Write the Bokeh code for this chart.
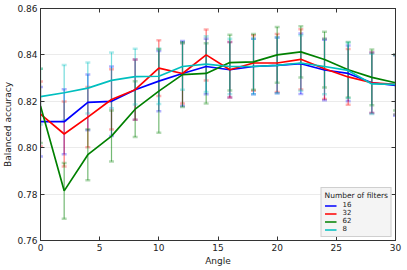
from bokeh.plotting import figure
from bokeh.models import (ColumnDataSource, Whisker, TeeHead, Legend, LegendItem, LinearAxis,
                          FixedTicker, Range1d, CustomJSTickFormatter)
from bokeh.embed import file_html
from bokeh.resources import INLINE

angles = [0, 2, 4, 6, 8, 10, 12, 14, 16, 18, 20, 22, 24, 26, 28, 30]
acc16 = [0.8112, 0.8112, 0.8195, 0.8200, 0.8250, 0.8287, 0.8320, 0.8350, 0.8336, 0.8350, 0.8355, 0.8362, 0.8335, 0.8320, 0.8280, 0.8268]
acc32 = [0.8145, 0.8059, 0.8132, 0.8208, 0.8250, 0.8343, 0.8320, 0.8400, 0.8336, 0.8365, 0.8365, 0.8381, 0.8340, 0.8305, 0.8280, 0.8273]
acc62 = [0.8180, 0.7814, 0.7970, 0.8050, 0.8166, 0.8244, 0.8315, 0.8320, 0.8367, 0.8370, 0.8400, 0.8413, 0.8380, 0.8336, 0.8303, 0.8280]
acc8 = [0.8220, 0.8237, 0.8257, 0.8290, 0.8306, 0.8308, 0.8350, 0.8360, 0.8350, 0.8350, 0.8355, 0.8365, 0.8350, 0.8333, 0.8275, 0.8273]
err16 = [0.015, 0.014, 0.012, 0.015, 0.013, 0.013, 0.014, 0.012, 0.012, 0.012, 0.012, 0.013, 0.013, 0.012, 0.013, 0.013]
err32 = [0.014, 0.014, 0.013, 0.013, 0.013, 0.012, 0.013, 0.011, 0.012, 0.012, 0.0125, 0.013, 0.013, 0.012, 0.013, 0.013]
err62 = [0.016, 0.012, 0.011, 0.011, 0.012, 0.018, 0.014, 0.013, 0.012, 0.012, 0.012, 0.011, 0.012, 0.012, 0.012, 0.012]
err8 = [0.012, 0.012, 0.011, 0.012, 0.012, 0.012, 0.010, 0.012, 0.012, 0.012, 0.012, 0.012, 0.012, 0.012, 0.013, 0.013]
series_names = ["16", "32", "62", "8"]
colors = ["#0000ff", "#ff0000", "#008000", "#00bfbf"]
x_ticks = [0, 5, 10, 15, 20, 25, 30]
y_ticks = [0.76, 0.78, 0.80, 0.82, 0.84, 0.86]

FONT = "DejaVu Sans"
AX = "#333333"

p = figure(width=405, height=268, output_backend="svg", toolbar_location=None,
           x_range=Range1d(0, 30), y_range=Range1d(0.76, 0.86),
           min_border_left=4, min_border_right=10, min_border_top=8, min_border_bottom=26,
           x_axis_label="Angle", y_axis_label="Balanced accuracy")
p.background_fill_color = "white"
p.outline_line_color = AX
p.outline_line_width = 1

for ax, ticks in ((p.xaxis[0], x_ticks), (p.yaxis[0], y_ticks)):
    ax.ticker = FixedTicker(ticks=ticks)
    ax.major_tick_in = 4
    ax.major_tick_out = 0
    ax.minor_tick_line_color = None
    ax.axis_line_color = AX
    ax.major_tick_line_color = AX
    ax.major_label_text_font = FONT
    ax.major_label_text_font_size = "9px"
    ax.major_label_text_color = "#222222"
    ax.axis_label_text_font = FONT
    ax.axis_label_text_font_size = "9px"
    ax.axis_label_text_font_style = "normal"
    ax.axis_label_text_color = "#222222"
p.xaxis[0].major_label_standoff = 3
p.xaxis[0].axis_label_standoff = 2
p.yaxis[0].major_label_standoff = 3
p.yaxis[0].axis_label_standoff = 1
p.yaxis[0].formatter = CustomJSTickFormatter(code="return tick.toFixed(2);")

blank = "return '';"
top = LinearAxis(ticker=FixedTicker(ticks=x_ticks), formatter=CustomJSTickFormatter(code=blank),
                 major_tick_in=4, major_tick_out=0, minor_tick_line_color=None,
                 axis_line_color=AX, major_tick_line_color=AX, major_label_standoff=0)
right = LinearAxis(ticker=FixedTicker(ticks=y_ticks), formatter=CustomJSTickFormatter(code=blank),
                   major_tick_in=4, major_tick_out=0, minor_tick_line_color=None,
                   axis_line_color=AX, major_tick_line_color=AX, major_label_standoff=0)
p.add_layout(top, "above")
p.add_layout(right, "right")

p.xgrid.grid_line_color = None
p.ygrid.ticker = FixedTicker(ticks=y_ticks)
p.ygrid.grid_line_color = "#ebebeb"

accs = [acc16, acc32, acc62, acc8]
errs = [err16, err32, err62, err8]
items = []
for name, col, acc, err in zip(series_names, colors, accs, errs):
    src = ColumnDataSource(dict(x=angles, y=acc,
                                lo=[a - e for a, e in zip(acc, err)],
                                hi=[a + e for a, e in zip(acc, err)]))
    w = Whisker(source=src, base="x", lower="lo", upper="hi", dimension="height",
                line_color=col, line_alpha=0.55, line_width=1.2,
                upper_head=TeeHead(size=5, line_color=col, line_alpha=0.3, line_width=2.5),
                lower_head=TeeHead(size=5, line_color=col, line_alpha=0.3, line_width=2.5))
    p.add_layout(w)
    r = p.line("x", "y", source=src, line_color=col, line_width=1.7)
    items.append(LegendItem(label=name, renderers=[r]))

legend = Legend(items=items, location="bottom_right", title="Number of filters",
                title_text_font=FONT, title_text_font_size="7.5px", title_text_font_style="normal",
                title_standoff=1, title_text_color="#222222",
                label_text_font=FONT, label_text_font_size="7px", label_text_color="#222222",
                label_height=7, glyph_height=7, glyph_width=12, label_standoff=6,
                spacing=0, padding=3, margin=3,
                background_fill_color="#f4f4f4", background_fill_alpha=1,
                border_line_color="#aaaaaa", border_line_width=1)
p.add_layout(legend)

open("out.html", "w").write(file_html(p, INLINE))
